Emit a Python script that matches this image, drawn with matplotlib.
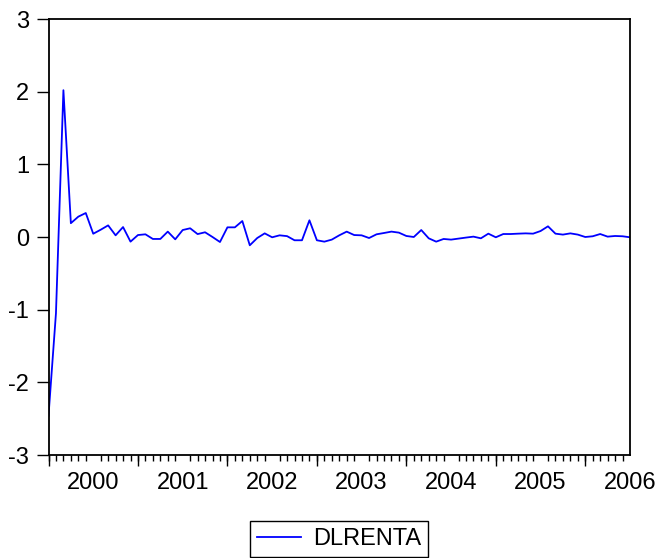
import numpy as np
import matplotlib
matplotlib.use("Agg")
import matplotlib.pyplot as plt

plt.rcParams['font.family'] = ['Liberation Sans', 'DejaVu Sans']
plt.rcParams['axes.unicode_minus'] = False

# monthly series, 2000M01 - 2006M07
dlrenta = [-2.46, -1.05, 2.02, 0.19, 0.28, 0.33, 0.045, 0.10, 0.16, 0.023,
           0.137, -0.064, 0.027, 0.037, -0.027, -0.027, 0.074, -0.032, 0.096, 0.12,
           0.04, 0.065, 0.0, -0.069, 0.133, 0.133, 0.22, -0.114, -0.014, 0.05,
           -0.004, 0.023, 0.012, -0.045, -0.045, 0.23, -0.045, -0.064, -0.036, 0.023,
           0.074, 0.027, 0.023, -0.014, 0.037, 0.055, 0.074, 0.06, 0.014, 0.0,
           0.096, -0.018, -0.064, -0.027, -0.036, -0.022, -0.008, 0.005, -0.018, 0.046,
           -0.004, 0.041, 0.041, 0.046, 0.05, 0.046, 0.082, 0.147, 0.046, 0.033,
           0.05, 0.033, 0.0, 0.01, 0.041, 0.005, 0.014, 0.01, -0.004]
years = ['2000', '2001', '2002', '2003', '2004', '2005', '2006']
yticks = [-3, -2, -1, 0, 1, 2, 3]

x = np.arange(len(dlrenta))
fs = 17

fig = plt.figure(figsize=(6.56, 5.58), dpi=100)
ax = fig.add_axes([48.5 / 656, 1 - 455 / 558, (630 - 48.5) / 656, (455 - 19) / 558])

ax.plot(x, dlrenta, color='#0000ff', lw=1.3, label='DLRENTA')

ax.set_xlim(x[0], x[-1])
ax.set_ylim(-3, 3)
ax.set_yticks(yticks)
ax.set_yticklabels([str(v) for v in yticks], fontsize=fs)

# year labels sit in the middle of each year, no tick mark
ax.set_xticks([6 + 12 * i for i in range(len(years))])
ax.set_xticklabels(years, fontsize=fs)
ax.tick_params(axis='x', which='major', length=0, pad=12)
ax.set_xticks(x, minor=True)
ax.tick_params(axis='x', which='minor', length=4, width=1, direction='out')
ax.tick_params(axis='y', length=9, width=1, direction='out', pad=5)

# longer ticks at the start of each year
sec = ax.secondary_xaxis('bottom')
sec.set_xticks([12 * i for i in range(len(years))])
sec.set_xticklabels([])
sec.tick_params(length=8, width=1, direction='out')
sec.spines['bottom'].set_visible(False)

for s in ['top', 'right', 'bottom', 'left']:
    ax.spines[s].set_linewidth(1.3)

leg = fig.legend(loc='lower center', bbox_to_anchor=(339 / 656, 1 / 558),
                 fontsize=fs, frameon=True, fancybox=False, edgecolor='black',
                 framealpha=1, borderaxespad=0, handlelength=1.9,
                 borderpad=0.3, handletextpad=0.5)
leg.get_frame().set_linewidth(1.0)

fig.savefig('out.png', dpi=100)
